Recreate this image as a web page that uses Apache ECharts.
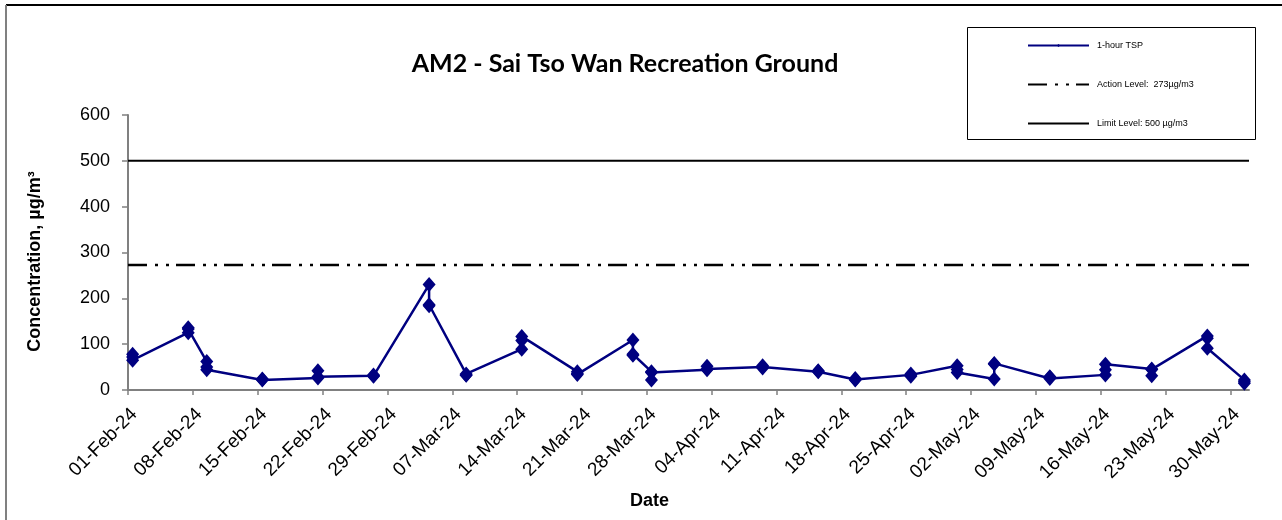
<!DOCTYPE html>
<html>
<head>
<meta charset="utf-8">
<script src="https://cdn.jsdelivr.net/npm/echarts@6/dist/echarts.min.js"></script>
<style>
html,body{margin:0;padding:0;background:#fff;}
#chart{width:1282px;height:520px;}
</style>
</head>
<body>
<div id="chart"></div>
<script>
// ---- data ----
const titleText = 'AM2 - Sai Tso Wan Recreation Ground';
const axisStart = '2024-02-01';
const axisEnd = '2024-06-01';
const sampleDates = ['2024-02-01','2024-02-07','2024-02-09','2024-02-15','2024-02-21','2024-02-27',
  '2024-03-04','2024-03-08','2024-03-14','2024-03-20','2024-03-26','2024-03-28',
  '2024-04-03','2024-04-09','2024-04-15','2024-04-19','2024-04-25','2024-04-30',
  '2024-05-04','2024-05-10','2024-05-16','2024-05-21','2024-05-27','2024-05-31'];
const reading1 = [78,125,62,22,26,31,230,35,89,40,109,40,44,50,40,23,33,53,24,25,33,46,118,22];
const reading2 = [72,133,50,24,42,33,186,33,108,34,78,22,52,48,42,25,30,45,58,28,44,31,113,15];
const reading3 = [65,136,44,23,29,30,184,32,117,36,76,38,46,53,41,22,35,38,57,29,56,45,91,18];
const actionLevel = 273;
const limitLevel = 500;
const yTicks = [0,100,200,300,400,500,600];
const seriesNames = ['1-hour TSP','Action Level:  273µg/m3','Limit Level: 500 µg/m3'];

// ---- helpers ----
const DAY = 86400000;
const t0 = Date.parse(axisStart + 'T00:00:00Z');
const dayOf = s => Math.round((Date.parse(s + 'T00:00:00Z') - t0) / DAY);
const xMax = dayOf(axisEnd);
const MON = ['Jan','Feb','Mar','Apr','May','Jun','Jul','Aug','Sep','Oct','Nov','Dec'];
function fmtDay(d){
  const dt = new Date(t0 + d*DAY);
  const dd = String(dt.getUTCDate()).padStart(2,'0');
  return dd + '-' + MON[dt.getUTCMonth()] + '-' + String(dt.getUTCFullYear()).slice(2);
}
// points sit in the middle of their day (date axis, between tick marks)
const tspData = [];
sampleDates.forEach((d,i) => {
  const x = dayOf(d) + 0.5;
  [reading1[i], reading2[i], reading3[i]].forEach(v => tspData.push([x, v]));
});

const FONT = '"Liberation Sans", Arial, sans-serif';
const chart = echarts.init(document.getElementById('chart'), null, {renderer:'canvas'});
chart.setOption({
  animation:false,
  backgroundColor:'#fff',
  title:{
    text:titleText, left:620, top:46, textAlign:'center',
    textStyle:{fontFamily:'Lato, "Liberation Sans", sans-serif', fontWeight:'bold', fontSize:25, color:'#000'}
  },
  legend:{
    orient:'vertical', left:1027, top:41, padding:0,
    itemWidth:61, itemHeight:4, itemGap:30,
    textStyle:{fontFamily:FONT, fontSize:9, color:'#000', padding:[0,0,0,3]},
    data:[
      {name:seriesNames[0]},
      {name:seriesNames[1], itemStyle:{color:'rgba(0,0,0,0)', borderWidth:0}},
      {name:seriesNames[2], itemStyle:{color:'rgba(0,0,0,0)', borderWidth:0}}
    ]
  },
  grid:{left:128, right:33, top:115, bottom:130, containLabel:false},
  xAxis:{
    type:'value', min:0, max:xMax, interval:7,
    name:'Date', nameLocation:'middle', nameGap:102,
    nameTextStyle:{fontFamily:FONT, fontWeight:'bold', fontSize:18, color:'#000', padding:[0,78,0,0]},
    axisLine:{show:true, onZero:false, lineStyle:{color:'#808080', width:2}},
    axisTick:{show:true, length:5, lineStyle:{color:'#808080', width:1.5}},
    axisLabel:{rotate:45, margin:15, lineHeight:18, fontFamily:FONT, fontSize:19, color:'#000', formatter:v=>' \n' + fmtDay(v), showMaxLabel:false},
    splitLine:{show:false}
  },
  yAxis:{
    type:'value', min:yTicks[0], max:yTicks[yTicks.length-1], interval:yTicks[1]-yTicks[0],
    name:'Concentration, µg/m³', nameLocation:'middle', nameGap:84,
    nameTextStyle:{fontFamily:FONT, fontWeight:'bold', fontSize:18, color:'#000', padding:[0,0,0,-18]},
    axisLine:{show:true, lineStyle:{color:'#808080', width:2}},
    axisTick:{show:true, length:6, lineStyle:{color:'#808080', width:1.5}},
    axisLabel:{margin:18, fontFamily:FONT, fontSize:18, color:'#000'},
    splitLine:{show:false}
  },
  series:[
    {
      name:seriesNames[0], type:'line', data:tspData,
      symbol:'diamond', symbolSize:[13,15],
      itemStyle:{color:'#000080'},
      lineStyle:{color:'#000080', width:2.5},
      z:5
    },
    {
      name:seriesNames[1], type:'line', symbol:'none',
      data:[[0,actionLevel],[xMax,actionLevel]],
      lineStyle:{color:'#000', width:2.5, type:[19,8,3,8,3,7]},
      itemStyle:{color:'#000'}
    },
    {
      name:seriesNames[2], type:'line', symbol:'none',
      data:[[0,limitLevel],[xMax,limitLevel]],
      lineStyle:{color:'#000', width:2},
      itemStyle:{color:'#000'}
    }
  ],
  graphic:[
    {type:'line', shape:{x1:6, y1:5, x2:1282, y2:5}, style:{stroke:'#000', lineWidth:2}},
    {type:'line', shape:{x1:6, y1:5, x2:6, y2:520}, style:{stroke:'#808080', lineWidth:2}},
    {type:'rect', shape:{x:967.5, y:27.5, width:288, height:112}, style:{fill:'none', stroke:'#000', lineWidth:1}}
  ]
});
</script>
</body>
</html>
